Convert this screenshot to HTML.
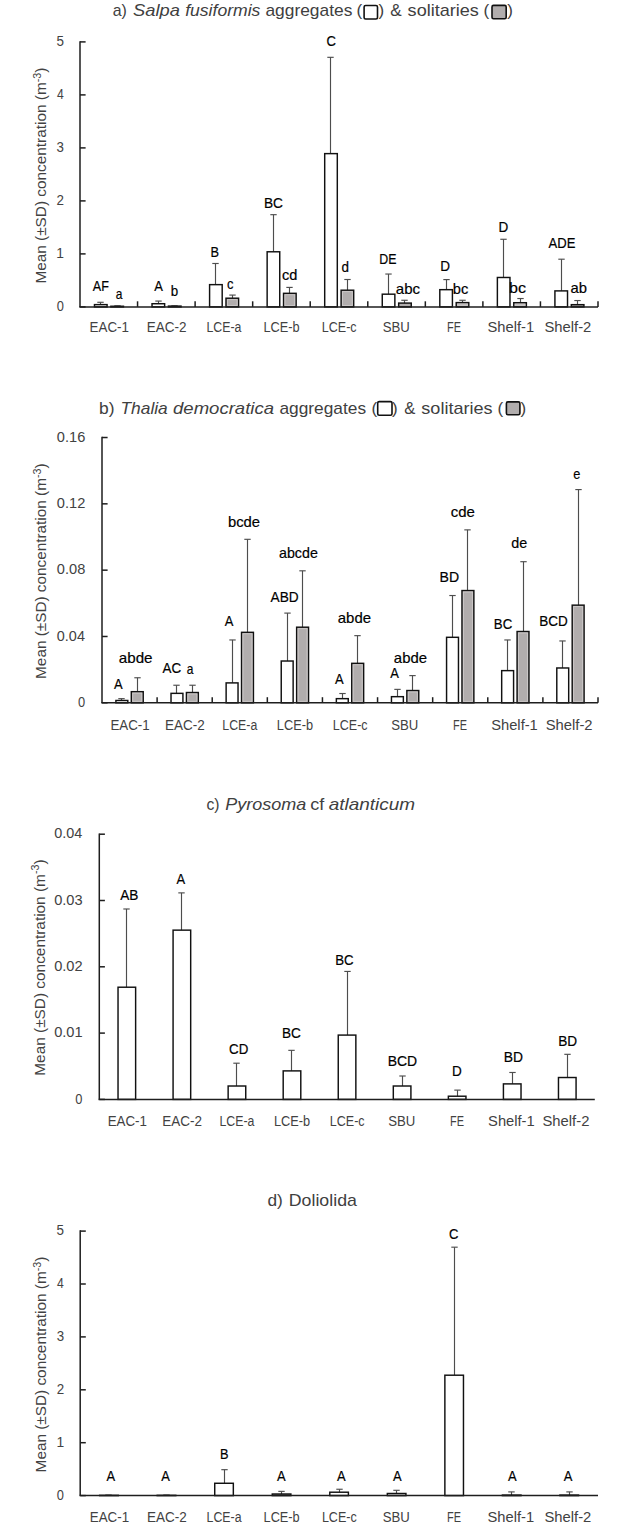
<!DOCTYPE html><html><head><meta charset="utf-8"><title>Tunicate concentrations</title><style>html,body{margin:0;padding:0;background:#fff;}svg{display:block;}</style></head><body>
<svg width="628" height="1526" viewBox="0 0 628 1526" font-family='"Liberation Sans", sans-serif'>
<rect width="628" height="1526" fill="#fff"/>
<rect x="364.1" y="5.5" width="13.4" height="13.5" rx="1.5" fill="#fff" stroke="#111" stroke-width="1.6"/>
<rect x="492" y="5.4" width="14.2" height="13.3" rx="1.5" fill="#b1adad" stroke="#111" stroke-width="1.6"/>
<rect x="377.7" y="401.6" width="14.3" height="13.7" rx="1.5" fill="#fff" stroke="#111" stroke-width="1.6"/>
<rect x="506.4" y="401.9" width="13.5" height="12.9" rx="1.5" fill="#b1adad" stroke="#111" stroke-width="1.6"/>
<line x1="80" y1="306.9" x2="85.6" y2="306.9" stroke="#1e1e1e" stroke-width="1.5"/>
<line x1="80" y1="253.9" x2="85.6" y2="253.9" stroke="#1e1e1e" stroke-width="1.5"/>
<line x1="80" y1="200.9" x2="85.6" y2="200.9" stroke="#1e1e1e" stroke-width="1.5"/>
<line x1="80" y1="147.9" x2="85.6" y2="147.9" stroke="#1e1e1e" stroke-width="1.5"/>
<line x1="80" y1="94.9" x2="85.6" y2="94.9" stroke="#1e1e1e" stroke-width="1.5"/>
<line x1="80" y1="41.9" x2="85.6" y2="41.9" stroke="#1e1e1e" stroke-width="1.5"/>
<line x1="137.56" y1="306.9" x2="137.56" y2="301.3" stroke="#1e1e1e" stroke-width="1.5"/>
<line x1="195.11" y1="306.9" x2="195.11" y2="301.3" stroke="#1e1e1e" stroke-width="1.5"/>
<line x1="252.67" y1="306.9" x2="252.67" y2="301.3" stroke="#1e1e1e" stroke-width="1.5"/>
<line x1="310.22" y1="306.9" x2="310.22" y2="301.3" stroke="#1e1e1e" stroke-width="1.5"/>
<line x1="367.78" y1="306.9" x2="367.78" y2="301.3" stroke="#1e1e1e" stroke-width="1.5"/>
<line x1="425.33" y1="306.9" x2="425.33" y2="301.3" stroke="#1e1e1e" stroke-width="1.5"/>
<line x1="482.89" y1="306.9" x2="482.89" y2="301.3" stroke="#1e1e1e" stroke-width="1.5"/>
<line x1="540.44" y1="306.9" x2="540.44" y2="301.3" stroke="#1e1e1e" stroke-width="1.5"/>
<line x1="598" y1="306.9" x2="598" y2="301.3" stroke="#1e1e1e" stroke-width="1.5"/>
<line x1="100.5" y1="304.62" x2="100.5" y2="302.29" stroke="#4d4d4d" stroke-width="1.15"/>
<line x1="97.3" y1="302.29" x2="103.7" y2="302.29" stroke="#4d4d4d" stroke-width="1.15"/>
<rect x="94.48" y="304.62" width="12.6" height="2.28" fill="#fff" stroke="#111" stroke-width="1.45"/>
<line x1="117.5" y1="306.26" x2="117.5" y2="305.84" stroke="#4d4d4d" stroke-width="1.15"/>
<line x1="114.3" y1="305.84" x2="120.7" y2="305.84" stroke="#4d4d4d" stroke-width="1.15"/>
<rect x="110.88" y="306.26" width="12.6" height="0.64" fill="#b1adad" stroke="#111" stroke-width="1.45"/>
<line x1="158.5" y1="303.72" x2="158.5" y2="301.07" stroke="#4d4d4d" stroke-width="1.15"/>
<line x1="155.3" y1="301.07" x2="161.7" y2="301.07" stroke="#4d4d4d" stroke-width="1.15"/>
<rect x="152.03" y="303.72" width="12.6" height="3.18" fill="#fff" stroke="#111" stroke-width="1.45"/>
<line x1="174.5" y1="306.1" x2="174.5" y2="305.84" stroke="#4d4d4d" stroke-width="1.15"/>
<line x1="171.3" y1="305.84" x2="177.7" y2="305.84" stroke="#4d4d4d" stroke-width="1.15"/>
<rect x="168.43" y="306.1" width="12.6" height="0.8" fill="#b1adad" stroke="#111" stroke-width="1.45"/>
<line x1="215.5" y1="284.64" x2="215.5" y2="263.49" stroke="#4d4d4d" stroke-width="1.15"/>
<line x1="212.3" y1="263.49" x2="218.7" y2="263.49" stroke="#4d4d4d" stroke-width="1.15"/>
<rect x="209.59" y="284.64" width="12.6" height="22.26" fill="#fff" stroke="#111" stroke-width="1.45"/>
<line x1="232.5" y1="298.21" x2="232.5" y2="295.08" stroke="#4d4d4d" stroke-width="1.15"/>
<line x1="229.3" y1="295.08" x2="235.7" y2="295.08" stroke="#4d4d4d" stroke-width="1.15"/>
<rect x="225.99" y="298.21" width="12.6" height="8.69" fill="#b1adad" stroke="#111" stroke-width="1.45"/>
<rect x="227.44" y="299.66" width="9.7" height="5.79" fill="none" stroke="#cdc9c9" stroke-width="0.9"/>
<line x1="273.5" y1="251.78" x2="273.5" y2="214.68" stroke="#4d4d4d" stroke-width="1.15"/>
<line x1="270.3" y1="214.68" x2="276.7" y2="214.68" stroke="#4d4d4d" stroke-width="1.15"/>
<rect x="267.14" y="251.78" width="12.6" height="55.12" fill="#fff" stroke="#111" stroke-width="1.45"/>
<line x1="289.5" y1="293.33" x2="289.5" y2="287.4" stroke="#4d4d4d" stroke-width="1.15"/>
<line x1="286.3" y1="287.4" x2="292.7" y2="287.4" stroke="#4d4d4d" stroke-width="1.15"/>
<rect x="283.54" y="293.33" width="12.6" height="13.57" fill="#b1adad" stroke="#111" stroke-width="1.45"/>
<rect x="284.99" y="294.78" width="9.7" height="10.67" fill="none" stroke="#cdc9c9" stroke-width="0.9"/>
<line x1="330.5" y1="153.62" x2="330.5" y2="57.32" stroke="#4d4d4d" stroke-width="1.15"/>
<line x1="327.3" y1="57.32" x2="333.7" y2="57.32" stroke="#4d4d4d" stroke-width="1.15"/>
<rect x="324.7" y="153.62" width="12.6" height="153.28" fill="#fff" stroke="#111" stroke-width="1.45"/>
<line x1="347.5" y1="290.2" x2="347.5" y2="279.5" stroke="#4d4d4d" stroke-width="1.15"/>
<line x1="344.3" y1="279.5" x2="350.7" y2="279.5" stroke="#4d4d4d" stroke-width="1.15"/>
<rect x="341.1" y="290.2" width="12.6" height="16.69" fill="#b1adad" stroke="#111" stroke-width="1.45"/>
<rect x="342.55" y="291.65" width="9.7" height="13.79" fill="none" stroke="#cdc9c9" stroke-width="0.9"/>
<line x1="388.5" y1="294.18" x2="388.5" y2="274.04" stroke="#4d4d4d" stroke-width="1.15"/>
<line x1="385.3" y1="274.04" x2="391.7" y2="274.04" stroke="#4d4d4d" stroke-width="1.15"/>
<rect x="382.26" y="294.18" width="12.6" height="12.72" fill="#fff" stroke="#111" stroke-width="1.45"/>
<line x1="404.5" y1="303.08" x2="404.5" y2="300.27" stroke="#4d4d4d" stroke-width="1.15"/>
<line x1="401.3" y1="300.27" x2="407.7" y2="300.27" stroke="#4d4d4d" stroke-width="1.15"/>
<rect x="398.66" y="303.08" width="12.6" height="3.82" fill="#b1adad" stroke="#111" stroke-width="1.45"/>
<line x1="446.5" y1="289.67" x2="446.5" y2="279.6" stroke="#4d4d4d" stroke-width="1.15"/>
<line x1="443.3" y1="279.6" x2="449.7" y2="279.6" stroke="#4d4d4d" stroke-width="1.15"/>
<rect x="439.81" y="289.67" width="12.6" height="17.23" fill="#fff" stroke="#111" stroke-width="1.45"/>
<line x1="462.5" y1="302.61" x2="462.5" y2="300.27" stroke="#4d4d4d" stroke-width="1.15"/>
<line x1="459.3" y1="300.27" x2="465.7" y2="300.27" stroke="#4d4d4d" stroke-width="1.15"/>
<rect x="456.21" y="302.61" width="12.6" height="4.29" fill="#b1adad" stroke="#111" stroke-width="1.45"/>
<rect x="457.66" y="304.06" width="9.7" height="1.39" fill="none" stroke="#cdc9c9" stroke-width="0.9"/>
<line x1="503.5" y1="277.48" x2="503.5" y2="239.27" stroke="#4d4d4d" stroke-width="1.15"/>
<line x1="500.3" y1="239.27" x2="506.7" y2="239.27" stroke="#4d4d4d" stroke-width="1.15"/>
<rect x="497.37" y="277.48" width="12.6" height="29.42" fill="#fff" stroke="#111" stroke-width="1.45"/>
<line x1="520.5" y1="302.71" x2="520.5" y2="298.53" stroke="#4d4d4d" stroke-width="1.15"/>
<line x1="517.3" y1="298.53" x2="523.7" y2="298.53" stroke="#4d4d4d" stroke-width="1.15"/>
<rect x="513.77" y="302.71" width="12.6" height="4.19" fill="#b1adad" stroke="#111" stroke-width="1.45"/>
<rect x="515.22" y="304.16" width="9.7" height="1.29" fill="none" stroke="#cdc9c9" stroke-width="0.9"/>
<line x1="561.5" y1="290.89" x2="561.5" y2="259.2" stroke="#4d4d4d" stroke-width="1.15"/>
<line x1="558.3" y1="259.2" x2="564.7" y2="259.2" stroke="#4d4d4d" stroke-width="1.15"/>
<rect x="554.92" y="290.89" width="12.6" height="16.01" fill="#fff" stroke="#111" stroke-width="1.45"/>
<line x1="577.5" y1="304.67" x2="577.5" y2="300.54" stroke="#4d4d4d" stroke-width="1.15"/>
<line x1="574.3" y1="300.54" x2="580.7" y2="300.54" stroke="#4d4d4d" stroke-width="1.15"/>
<rect x="571.32" y="304.67" width="12.6" height="2.23" fill="#b1adad" stroke="#111" stroke-width="1.45"/>
<line x1="79.25" y1="306.9" x2="598" y2="306.9" stroke="#1e1e1e" stroke-width="1.5"/>
<line x1="80" y1="41.15" x2="80" y2="306.9" stroke="#1e1e1e" stroke-width="1.5"/>
<line x1="102" y1="702.8" x2="107.6" y2="702.8" stroke="#1e1e1e" stroke-width="1.5"/>
<line x1="102" y1="636.48" x2="107.6" y2="636.48" stroke="#1e1e1e" stroke-width="1.5"/>
<line x1="102" y1="570.16" x2="107.6" y2="570.16" stroke="#1e1e1e" stroke-width="1.5"/>
<line x1="102" y1="503.84" x2="107.6" y2="503.84" stroke="#1e1e1e" stroke-width="1.5"/>
<line x1="102" y1="437.52" x2="107.6" y2="437.52" stroke="#1e1e1e" stroke-width="1.5"/>
<line x1="157.11" y1="702.8" x2="157.11" y2="697.2" stroke="#1e1e1e" stroke-width="1.5"/>
<line x1="212.22" y1="702.8" x2="212.22" y2="697.2" stroke="#1e1e1e" stroke-width="1.5"/>
<line x1="267.33" y1="702.8" x2="267.33" y2="697.2" stroke="#1e1e1e" stroke-width="1.5"/>
<line x1="322.44" y1="702.8" x2="322.44" y2="697.2" stroke="#1e1e1e" stroke-width="1.5"/>
<line x1="377.56" y1="702.8" x2="377.56" y2="697.2" stroke="#1e1e1e" stroke-width="1.5"/>
<line x1="432.67" y1="702.8" x2="432.67" y2="697.2" stroke="#1e1e1e" stroke-width="1.5"/>
<line x1="487.78" y1="702.8" x2="487.78" y2="697.2" stroke="#1e1e1e" stroke-width="1.5"/>
<line x1="542.89" y1="702.8" x2="542.89" y2="697.2" stroke="#1e1e1e" stroke-width="1.5"/>
<line x1="598" y1="702.8" x2="598" y2="697.2" stroke="#1e1e1e" stroke-width="1.5"/>
<line x1="121.5" y1="700.48" x2="121.5" y2="698.65" stroke="#4d4d4d" stroke-width="1.15"/>
<line x1="118.3" y1="698.65" x2="124.7" y2="698.65" stroke="#4d4d4d" stroke-width="1.15"/>
<rect x="115.91" y="700.48" width="11.9" height="2.32" fill="#fff" stroke="#111" stroke-width="1.45"/>
<line x1="137.5" y1="691.69" x2="137.5" y2="677.76" stroke="#4d4d4d" stroke-width="1.15"/>
<line x1="134.3" y1="677.76" x2="140.7" y2="677.76" stroke="#4d4d4d" stroke-width="1.15"/>
<rect x="131.31" y="691.69" width="11.9" height="11.11" fill="#b1adad" stroke="#111" stroke-width="1.45"/>
<rect x="132.76" y="693.14" width="9" height="8.21" fill="none" stroke="#cdc9c9" stroke-width="0.9"/>
<line x1="176.5" y1="693.35" x2="176.5" y2="685.23" stroke="#4d4d4d" stroke-width="1.15"/>
<line x1="173.3" y1="685.23" x2="179.7" y2="685.23" stroke="#4d4d4d" stroke-width="1.15"/>
<rect x="171.02" y="693.35" width="11.9" height="9.45" fill="#fff" stroke="#111" stroke-width="1.45"/>
<line x1="192.5" y1="692.52" x2="192.5" y2="685.23" stroke="#4d4d4d" stroke-width="1.15"/>
<line x1="189.3" y1="685.23" x2="195.7" y2="685.23" stroke="#4d4d4d" stroke-width="1.15"/>
<rect x="186.42" y="692.52" width="11.9" height="10.28" fill="#b1adad" stroke="#111" stroke-width="1.45"/>
<rect x="187.87" y="693.97" width="9" height="7.38" fill="none" stroke="#cdc9c9" stroke-width="0.9"/>
<line x1="232.5" y1="682.9" x2="232.5" y2="639.96" stroke="#4d4d4d" stroke-width="1.15"/>
<line x1="229.3" y1="639.96" x2="235.7" y2="639.96" stroke="#4d4d4d" stroke-width="1.15"/>
<rect x="226.13" y="682.9" width="11.9" height="19.9" fill="#fff" stroke="#111" stroke-width="1.45"/>
<line x1="247.5" y1="632.33" x2="247.5" y2="539.32" stroke="#4d4d4d" stroke-width="1.15"/>
<line x1="244.3" y1="539.32" x2="250.7" y2="539.32" stroke="#4d4d4d" stroke-width="1.15"/>
<rect x="241.53" y="632.33" width="11.9" height="70.47" fill="#b1adad" stroke="#111" stroke-width="1.45"/>
<rect x="242.98" y="633.78" width="9" height="67.57" fill="none" stroke="#cdc9c9" stroke-width="0.9"/>
<line x1="287.5" y1="661.02" x2="287.5" y2="613.1" stroke="#4d4d4d" stroke-width="1.15"/>
<line x1="284.3" y1="613.1" x2="290.7" y2="613.1" stroke="#4d4d4d" stroke-width="1.15"/>
<rect x="281.24" y="661.02" width="11.9" height="41.78" fill="#fff" stroke="#111" stroke-width="1.45"/>
<line x1="302.5" y1="627.2" x2="302.5" y2="570.82" stroke="#4d4d4d" stroke-width="1.15"/>
<line x1="299.3" y1="570.82" x2="305.7" y2="570.82" stroke="#4d4d4d" stroke-width="1.15"/>
<rect x="296.64" y="627.2" width="11.9" height="75.6" fill="#b1adad" stroke="#111" stroke-width="1.45"/>
<rect x="298.09" y="628.65" width="9" height="72.7" fill="none" stroke="#cdc9c9" stroke-width="0.9"/>
<line x1="342.5" y1="698.65" x2="342.5" y2="693.52" stroke="#4d4d4d" stroke-width="1.15"/>
<line x1="339.3" y1="693.52" x2="345.7" y2="693.52" stroke="#4d4d4d" stroke-width="1.15"/>
<rect x="336.35" y="698.65" width="11.9" height="4.14" fill="#fff" stroke="#111" stroke-width="1.45"/>
<line x1="357.5" y1="663.34" x2="357.5" y2="635.65" stroke="#4d4d4d" stroke-width="1.15"/>
<line x1="354.3" y1="635.65" x2="360.7" y2="635.65" stroke="#4d4d4d" stroke-width="1.15"/>
<rect x="351.75" y="663.34" width="11.9" height="39.46" fill="#b1adad" stroke="#111" stroke-width="1.45"/>
<rect x="353.2" y="664.79" width="9" height="36.56" fill="none" stroke="#cdc9c9" stroke-width="0.9"/>
<line x1="397.5" y1="696.67" x2="397.5" y2="689.37" stroke="#4d4d4d" stroke-width="1.15"/>
<line x1="394.3" y1="689.37" x2="400.7" y2="689.37" stroke="#4d4d4d" stroke-width="1.15"/>
<rect x="391.46" y="696.67" width="11.9" height="6.13" fill="#fff" stroke="#111" stroke-width="1.45"/>
<line x1="412.5" y1="690.53" x2="412.5" y2="675.61" stroke="#4d4d4d" stroke-width="1.15"/>
<line x1="409.3" y1="675.61" x2="415.7" y2="675.61" stroke="#4d4d4d" stroke-width="1.15"/>
<rect x="406.86" y="690.53" width="11.9" height="12.27" fill="#b1adad" stroke="#111" stroke-width="1.45"/>
<rect x="408.31" y="691.98" width="9" height="9.37" fill="none" stroke="#cdc9c9" stroke-width="0.9"/>
<line x1="452.5" y1="637.31" x2="452.5" y2="595.53" stroke="#4d4d4d" stroke-width="1.15"/>
<line x1="449.3" y1="595.53" x2="455.7" y2="595.53" stroke="#4d4d4d" stroke-width="1.15"/>
<rect x="446.57" y="637.31" width="11.9" height="65.49" fill="#fff" stroke="#111" stroke-width="1.45"/>
<line x1="467.5" y1="590.55" x2="467.5" y2="529.87" stroke="#4d4d4d" stroke-width="1.15"/>
<line x1="464.3" y1="529.87" x2="470.7" y2="529.87" stroke="#4d4d4d" stroke-width="1.15"/>
<rect x="461.97" y="590.55" width="11.9" height="112.25" fill="#b1adad" stroke="#111" stroke-width="1.45"/>
<rect x="463.42" y="592" width="9" height="109.35" fill="none" stroke="#cdc9c9" stroke-width="0.9"/>
<line x1="507.5" y1="670.63" x2="507.5" y2="639.96" stroke="#4d4d4d" stroke-width="1.15"/>
<line x1="504.3" y1="639.96" x2="510.7" y2="639.96" stroke="#4d4d4d" stroke-width="1.15"/>
<rect x="501.68" y="670.63" width="11.9" height="32.17" fill="#fff" stroke="#111" stroke-width="1.45"/>
<line x1="523.5" y1="631.51" x2="523.5" y2="561.7" stroke="#4d4d4d" stroke-width="1.15"/>
<line x1="520.3" y1="561.7" x2="526.7" y2="561.7" stroke="#4d4d4d" stroke-width="1.15"/>
<rect x="517.08" y="631.51" width="11.9" height="71.29" fill="#b1adad" stroke="#111" stroke-width="1.45"/>
<rect x="518.53" y="632.96" width="9" height="68.39" fill="none" stroke="#cdc9c9" stroke-width="0.9"/>
<line x1="562.5" y1="667.98" x2="562.5" y2="640.96" stroke="#4d4d4d" stroke-width="1.15"/>
<line x1="559.3" y1="640.96" x2="565.7" y2="640.96" stroke="#4d4d4d" stroke-width="1.15"/>
<rect x="556.79" y="667.98" width="11.9" height="34.82" fill="#fff" stroke="#111" stroke-width="1.45"/>
<line x1="578.5" y1="605.14" x2="578.5" y2="489.58" stroke="#4d4d4d" stroke-width="1.15"/>
<line x1="575.3" y1="489.58" x2="581.7" y2="489.58" stroke="#4d4d4d" stroke-width="1.15"/>
<rect x="572.19" y="605.14" width="11.9" height="97.66" fill="#b1adad" stroke="#111" stroke-width="1.45"/>
<rect x="573.64" y="606.59" width="9" height="94.76" fill="none" stroke="#cdc9c9" stroke-width="0.9"/>
<line x1="101.25" y1="702.8" x2="598" y2="702.8" stroke="#1e1e1e" stroke-width="1.5"/>
<line x1="102" y1="436.77" x2="102" y2="702.8" stroke="#1e1e1e" stroke-width="1.5"/>
<line x1="99.3" y1="1099.4" x2="104.9" y2="1099.4" stroke="#1e1e1e" stroke-width="1.5"/>
<line x1="99.3" y1="1033.1" x2="104.9" y2="1033.1" stroke="#1e1e1e" stroke-width="1.5"/>
<line x1="99.3" y1="966.8" x2="104.9" y2="966.8" stroke="#1e1e1e" stroke-width="1.5"/>
<line x1="99.3" y1="900.5" x2="104.9" y2="900.5" stroke="#1e1e1e" stroke-width="1.5"/>
<line x1="99.3" y1="834.2" x2="104.9" y2="834.2" stroke="#1e1e1e" stroke-width="1.5"/>
<line x1="126.5" y1="987.22" x2="126.5" y2="908.99" stroke="#4d4d4d" stroke-width="1.15"/>
<line x1="123.3" y1="908.99" x2="129.7" y2="908.99" stroke="#4d4d4d" stroke-width="1.15"/>
<rect x="118.03" y="987.22" width="17.6" height="112.18" fill="#fff" stroke="#111" stroke-width="1.45"/>
<line x1="181.5" y1="930.14" x2="181.5" y2="892.88" stroke="#4d4d4d" stroke-width="1.15"/>
<line x1="178.3" y1="892.88" x2="184.7" y2="892.88" stroke="#4d4d4d" stroke-width="1.15"/>
<rect x="173.08" y="930.14" width="17.6" height="169.26" fill="#fff" stroke="#111" stroke-width="1.45"/>
<line x1="236.5" y1="1086.01" x2="236.5" y2="1063.2" stroke="#4d4d4d" stroke-width="1.15"/>
<line x1="233.3" y1="1063.2" x2="239.7" y2="1063.2" stroke="#4d4d4d" stroke-width="1.15"/>
<rect x="228.14" y="1086.01" width="17.6" height="13.39" fill="#fff" stroke="#111" stroke-width="1.45"/>
<line x1="291.5" y1="1070.89" x2="291.5" y2="1050.34" stroke="#4d4d4d" stroke-width="1.15"/>
<line x1="288.3" y1="1050.34" x2="294.7" y2="1050.34" stroke="#4d4d4d" stroke-width="1.15"/>
<rect x="283.19" y="1070.89" width="17.6" height="28.51" fill="#fff" stroke="#111" stroke-width="1.45"/>
<line x1="347.5" y1="1035.09" x2="347.5" y2="971.44" stroke="#4d4d4d" stroke-width="1.15"/>
<line x1="344.3" y1="971.44" x2="350.7" y2="971.44" stroke="#4d4d4d" stroke-width="1.15"/>
<rect x="338.25" y="1035.09" width="17.6" height="64.31" fill="#fff" stroke="#111" stroke-width="1.45"/>
<line x1="402.5" y1="1086.01" x2="402.5" y2="1076" stroke="#4d4d4d" stroke-width="1.15"/>
<line x1="399.3" y1="1076" x2="405.7" y2="1076" stroke="#4d4d4d" stroke-width="1.15"/>
<rect x="393.31" y="1086.01" width="17.6" height="13.39" fill="#fff" stroke="#111" stroke-width="1.45"/>
<line x1="457.5" y1="1096.22" x2="457.5" y2="1090.12" stroke="#4d4d4d" stroke-width="1.15"/>
<line x1="454.3" y1="1090.12" x2="460.7" y2="1090.12" stroke="#4d4d4d" stroke-width="1.15"/>
<rect x="448.36" y="1096.22" width="17.6" height="3.18" fill="#fff" stroke="#111" stroke-width="1.45"/>
<line x1="512.5" y1="1083.89" x2="512.5" y2="1072.48" stroke="#4d4d4d" stroke-width="1.15"/>
<line x1="509.3" y1="1072.48" x2="515.7" y2="1072.48" stroke="#4d4d4d" stroke-width="1.15"/>
<rect x="503.42" y="1083.89" width="17.6" height="15.51" fill="#fff" stroke="#111" stroke-width="1.45"/>
<line x1="567.5" y1="1077.52" x2="567.5" y2="1054.32" stroke="#4d4d4d" stroke-width="1.15"/>
<line x1="564.3" y1="1054.32" x2="570.7" y2="1054.32" stroke="#4d4d4d" stroke-width="1.15"/>
<rect x="558.47" y="1077.52" width="17.6" height="21.88" fill="#fff" stroke="#111" stroke-width="1.45"/>
<line x1="98.55" y1="1099.4" x2="594.8" y2="1099.4" stroke="#1e1e1e" stroke-width="1.5"/>
<line x1="99.3" y1="833.45" x2="99.3" y2="1099.4" stroke="#1e1e1e" stroke-width="1.5"/>
<line x1="80.2" y1="1495.6" x2="85.8" y2="1495.6" stroke="#1e1e1e" stroke-width="1.5"/>
<line x1="80.2" y1="1442.7" x2="85.8" y2="1442.7" stroke="#1e1e1e" stroke-width="1.5"/>
<line x1="80.2" y1="1389.8" x2="85.8" y2="1389.8" stroke="#1e1e1e" stroke-width="1.5"/>
<line x1="80.2" y1="1336.9" x2="85.8" y2="1336.9" stroke="#1e1e1e" stroke-width="1.5"/>
<line x1="80.2" y1="1284" x2="85.8" y2="1284" stroke="#1e1e1e" stroke-width="1.5"/>
<line x1="80.2" y1="1231.1" x2="85.8" y2="1231.1" stroke="#1e1e1e" stroke-width="1.5"/>
<line x1="108.5" y1="1495.34" x2="108.5" y2="1495.07" stroke="#4d4d4d" stroke-width="1.15"/>
<line x1="105.3" y1="1495.07" x2="111.7" y2="1495.07" stroke="#4d4d4d" stroke-width="1.15"/>
<rect x="99.67" y="1495.34" width="18.6" height="0.26" fill="#fff" stroke="#111" stroke-width="1.45"/>
<line x1="166.5" y1="1495.34" x2="166.5" y2="1495.07" stroke="#4d4d4d" stroke-width="1.15"/>
<line x1="163.3" y1="1495.07" x2="169.7" y2="1495.07" stroke="#4d4d4d" stroke-width="1.15"/>
<rect x="157.2" y="1495.34" width="18.6" height="0.26" fill="#fff" stroke="#111" stroke-width="1.45"/>
<line x1="224.5" y1="1483.27" x2="224.5" y2="1469.68" stroke="#4d4d4d" stroke-width="1.15"/>
<line x1="221.3" y1="1469.68" x2="227.7" y2="1469.68" stroke="#4d4d4d" stroke-width="1.15"/>
<rect x="214.73" y="1483.27" width="18.6" height="12.33" fill="#fff" stroke="#111" stroke-width="1.45"/>
<line x1="281.5" y1="1494.01" x2="281.5" y2="1491.37" stroke="#4d4d4d" stroke-width="1.15"/>
<line x1="278.3" y1="1491.37" x2="284.7" y2="1491.37" stroke="#4d4d4d" stroke-width="1.15"/>
<rect x="272.27" y="1494.01" width="18.6" height="1.59" fill="#fff" stroke="#111" stroke-width="1.45"/>
<line x1="339.5" y1="1492.21" x2="339.5" y2="1489.25" stroke="#4d4d4d" stroke-width="1.15"/>
<line x1="336.3" y1="1489.25" x2="342.7" y2="1489.25" stroke="#4d4d4d" stroke-width="1.15"/>
<rect x="329.8" y="1492.21" width="18.6" height="3.39" fill="#fff" stroke="#111" stroke-width="1.45"/>
<line x1="396.5" y1="1493.48" x2="396.5" y2="1490.31" stroke="#4d4d4d" stroke-width="1.15"/>
<line x1="393.3" y1="1490.31" x2="399.7" y2="1490.31" stroke="#4d4d4d" stroke-width="1.15"/>
<rect x="387.33" y="1493.48" width="18.6" height="2.12" fill="#fff" stroke="#111" stroke-width="1.45"/>
<line x1="454.5" y1="1375.2" x2="454.5" y2="1247.18" stroke="#4d4d4d" stroke-width="1.15"/>
<line x1="451.3" y1="1247.18" x2="457.7" y2="1247.18" stroke="#4d4d4d" stroke-width="1.15"/>
<rect x="444.87" y="1375.2" width="18.6" height="120.4" fill="#fff" stroke="#111" stroke-width="1.45"/>
<line x1="511.5" y1="1495.07" x2="511.5" y2="1491.9" stroke="#4d4d4d" stroke-width="1.15"/>
<line x1="508.3" y1="1491.9" x2="514.7" y2="1491.9" stroke="#4d4d4d" stroke-width="1.15"/>
<rect x="502.4" y="1495.07" width="18.6" height="0.53" fill="#fff" stroke="#111" stroke-width="1.45"/>
<line x1="569.5" y1="1495.07" x2="569.5" y2="1491.9" stroke="#4d4d4d" stroke-width="1.15"/>
<line x1="566.3" y1="1491.9" x2="572.7" y2="1491.9" stroke="#4d4d4d" stroke-width="1.15"/>
<rect x="559.93" y="1495.07" width="18.6" height="0.53" fill="#fff" stroke="#111" stroke-width="1.45"/>
<line x1="79.45" y1="1495.6" x2="598" y2="1495.6" stroke="#1e1e1e" stroke-width="1.5"/>
<line x1="80.2" y1="1230.35" x2="80.2" y2="1495.6" stroke="#1e1e1e" stroke-width="1.5"/>
<text x="112.74" y="16.4" font-size="17" fill="#404040"  textLength="14.16" lengthAdjust="spacingAndGlyphs">a)</text>
<text x="133.09" y="16.4" font-size="17" fill="#404040"  font-style="italic" textLength="46.86" lengthAdjust="spacingAndGlyphs">Salpa</text>
<text x="185.15" y="16.4" font-size="17" fill="#404040"  font-style="italic" textLength="75.25" lengthAdjust="spacingAndGlyphs">fusiformis</text>
<text x="265.48" y="16.4" font-size="17" fill="#404040"  textLength="86.88" lengthAdjust="spacingAndGlyphs">aggregates</text>
<text x="356.4" y="16.4" font-size="17" fill="#404040" >(</text>
<text x="378.62" y="16.4" font-size="17" fill="#404040" >)</text>
<text x="390.39" y="16.4" font-size="17" fill="#404040"  textLength="11.43" lengthAdjust="spacingAndGlyphs">&amp;</text>
<text x="407.63" y="16.4" font-size="17" fill="#404040"  textLength="71.27" lengthAdjust="spacingAndGlyphs">solitaries</text>
<text x="483.6" y="16.4" font-size="17" fill="#404040" >(</text>
<text x="507.22" y="16.4" font-size="17" fill="#404040" >)</text>
<text x="99.09" y="414.1" font-size="17" fill="#404040"  textLength="15.49" lengthAdjust="spacingAndGlyphs">b)</text>
<text x="120.53" y="414.1" font-size="17" fill="#404040"  font-style="italic" textLength="47.24" lengthAdjust="spacingAndGlyphs">Thalia</text>
<text x="173.06" y="414.1" font-size="17" fill="#404040"  font-style="italic" textLength="100.93" lengthAdjust="spacingAndGlyphs">democratica</text>
<text x="279.48" y="414.1" font-size="17" fill="#404040"  textLength="86.57" lengthAdjust="spacingAndGlyphs">aggregates</text>
<text x="371.4" y="414.1" font-size="17" fill="#404040" >(</text>
<text x="392.02" y="414.1" font-size="17" fill="#404040" >)</text>
<text x="404.21" y="414.1" font-size="17" fill="#404040"  textLength="11.11" lengthAdjust="spacingAndGlyphs">&amp;</text>
<text x="421.33" y="414.1" font-size="17" fill="#404040"  textLength="71.27" lengthAdjust="spacingAndGlyphs">solitaries</text>
<text x="497.6" y="414.1" font-size="17" fill="#404040" >(</text>
<text x="520.62" y="414.1" font-size="17" fill="#404040" >)</text>
<text x="206.47" y="810.2" font-size="17" fill="#404040"  textLength="13.07" lengthAdjust="spacingAndGlyphs">c)</text>
<text x="225.2" y="810.2" font-size="17" fill="#404040"  font-style="italic" textLength="81.09" lengthAdjust="spacingAndGlyphs">Pyrosoma</text>
<text x="310.17" y="810.2" font-size="17" fill="#404040"  textLength="14.03" lengthAdjust="spacingAndGlyphs">cf</text>
<text x="328.71" y="810.2" font-size="17" fill="#404040"  font-style="italic" textLength="86.38" lengthAdjust="spacingAndGlyphs">atlanticum</text>
<text x="267.49" y="1206.2" font-size="17" fill="#404040"  textLength="15.38" lengthAdjust="spacingAndGlyphs">d)</text>
<text x="288.8" y="1206.2" font-size="17" fill="#404040"  textLength="68.07" lengthAdjust="spacingAndGlyphs">Doliolida</text>
<text x="56.71" y="311.1" font-size="14.0" fill="#424242"  textLength="7.17" lengthAdjust="spacingAndGlyphs">0</text>
<text x="56.31" y="258.1" font-size="14.0" fill="#424242"  textLength="7.68" lengthAdjust="spacingAndGlyphs">1</text>
<text x="56.57" y="205.1" font-size="14.0" fill="#424242"  textLength="7.45" lengthAdjust="spacingAndGlyphs">2</text>
<text x="56.56" y="152.1" font-size="14.0" fill="#424242"  textLength="7.41" lengthAdjust="spacingAndGlyphs">3</text>
<text x="56.96" y="99.1" font-size="14.0" fill="#424242"  textLength="6.77" lengthAdjust="spacingAndGlyphs">4</text>
<text x="56.46" y="46.1" font-size="14.0" fill="#424242"  textLength="7.47" lengthAdjust="spacingAndGlyphs">5</text>
<text x="92.83" y="291.1" font-size="14.3" fill="#000" stroke="#000" stroke-width="0.18" textLength="16.06" lengthAdjust="spacingAndGlyphs">AF</text>
<text x="115.85" y="298.7" font-size="14.3" fill="#000" stroke="#000" stroke-width="0.18" textLength="6.65" lengthAdjust="spacingAndGlyphs">a</text>
<text x="89.62" y="332.2" font-size="14.0" fill="#424242"  textLength="39.29" lengthAdjust="spacingAndGlyphs">EAC-1</text>
<text x="154.27" y="291.1" font-size="14.3" fill="#000" stroke="#000" stroke-width="0.18" textLength="8.63" lengthAdjust="spacingAndGlyphs">A</text>
<text x="170.83" y="296.3" font-size="14.3" fill="#000" stroke="#000" stroke-width="0.18" textLength="7.43" lengthAdjust="spacingAndGlyphs">b</text>
<text x="146.76" y="332.2" font-size="14.0" fill="#424242"  textLength="39.73" lengthAdjust="spacingAndGlyphs">EAC-2</text>
<text x="210.43" y="256.7" font-size="14.3" fill="#000" stroke="#000" stroke-width="0.18" textLength="8.52" lengthAdjust="spacingAndGlyphs">B</text>
<text x="227.06" y="289.4" font-size="14.3" fill="#000" stroke="#000" stroke-width="0.18" textLength="6.48" lengthAdjust="spacingAndGlyphs">c</text>
<text x="206.46" y="332.2" font-size="14.0" fill="#424242"  textLength="34.91" lengthAdjust="spacingAndGlyphs">LCE-a</text>
<text x="263.93" y="208.3" font-size="14.3" fill="#000" stroke="#000" stroke-width="0.18" textLength="19" lengthAdjust="spacingAndGlyphs">BC</text>
<text x="281.99" y="279.9" font-size="14.3" fill="#000" stroke="#000" stroke-width="0.18" textLength="15.41" lengthAdjust="spacingAndGlyphs">cd</text>
<text x="263.43" y="332.2" font-size="14.0" fill="#424242"  textLength="36.13" lengthAdjust="spacingAndGlyphs">LCE-b</text>
<text x="326.41" y="46.4" font-size="14.3" fill="#000" stroke="#000" stroke-width="0.18" textLength="9.39" lengthAdjust="spacingAndGlyphs">C</text>
<text x="341.53" y="272.3" font-size="14.3" fill="#000" stroke="#000" stroke-width="0.18" textLength="7.47" lengthAdjust="spacingAndGlyphs">d</text>
<text x="321.8" y="332.2" font-size="14.0" fill="#424242"  textLength="34.8" lengthAdjust="spacingAndGlyphs">LCE-c</text>
<text x="379.33" y="264" font-size="14.3" fill="#000" stroke="#000" stroke-width="0.18" textLength="17.22" lengthAdjust="spacingAndGlyphs">DE</text>
<text x="395.87" y="293.6" font-size="14.3" fill="#000" stroke="#000" stroke-width="0.18" textLength="24.27" lengthAdjust="spacingAndGlyphs">abc</text>
<text x="382.72" y="332.2" font-size="14.0" fill="#424242"  textLength="27.09" lengthAdjust="spacingAndGlyphs">SBU</text>
<text x="440.35" y="271.2" font-size="14.3" fill="#000" stroke="#000" stroke-width="0.18" textLength="9.77" lengthAdjust="spacingAndGlyphs">D</text>
<text x="452.85" y="293.6" font-size="14.3" fill="#000" stroke="#000" stroke-width="0.18" textLength="15.51" lengthAdjust="spacingAndGlyphs">bc</text>
<text x="446.99" y="332.2" font-size="14.0" fill="#424242"  textLength="13.96" lengthAdjust="spacingAndGlyphs">FE</text>
<text x="498.55" y="232" font-size="14.3" fill="#000" stroke="#000" stroke-width="0.18" textLength="9.77" lengthAdjust="spacingAndGlyphs">D</text>
<text x="509.07" y="293.2" font-size="14.3" fill="#000" stroke="#000" stroke-width="0.18" textLength="17.05" lengthAdjust="spacingAndGlyphs">bc</text>
<text x="487.54" y="332.2" font-size="14.0" fill="#424242"  textLength="46.58" lengthAdjust="spacingAndGlyphs">Shelf-1</text>
<text x="548.62" y="247.7" font-size="14.3" fill="#000" stroke="#000" stroke-width="0.18" textLength="26.89" lengthAdjust="spacingAndGlyphs">ADE</text>
<text x="570.57" y="293.2" font-size="14.3" fill="#000" stroke="#000" stroke-width="0.18" textLength="16.49" lengthAdjust="spacingAndGlyphs">ab</text>
<text x="544.44" y="332.2" font-size="14.0" fill="#424242"  textLength="46.92" lengthAdjust="spacingAndGlyphs">Shelf-2</text>
<text x="78.01" y="707" font-size="14.0" fill="#424242"  textLength="7.17" lengthAdjust="spacingAndGlyphs">0</text>
<text x="56.85" y="640.68" font-size="14.0" fill="#424242"  textLength="28.06" lengthAdjust="spacingAndGlyphs">0.04</text>
<text x="56.85" y="574.36" font-size="14.0" fill="#424242"  textLength="28.45" lengthAdjust="spacingAndGlyphs">0.08</text>
<text x="56.85" y="508.04" font-size="14.0" fill="#424242"  textLength="28.47" lengthAdjust="spacingAndGlyphs">0.12</text>
<text x="56.85" y="441.72" font-size="14.0" fill="#424242"  textLength="28.41" lengthAdjust="spacingAndGlyphs">0.16</text>
<text x="114.07" y="688.7" font-size="14.3" fill="#000" stroke="#000" stroke-width="0.18" textLength="8.63" lengthAdjust="spacingAndGlyphs">A</text>
<text x="118.76" y="663.3" font-size="14.3" fill="#000" stroke="#000" stroke-width="0.18" textLength="33.77" lengthAdjust="spacingAndGlyphs">abde</text>
<text x="110.39" y="729.8" font-size="14.0" fill="#424242"  textLength="39.29" lengthAdjust="spacingAndGlyphs">EAC-1</text>
<text x="162.52" y="672.5" font-size="14.3" fill="#000" stroke="#000" stroke-width="0.18" textLength="18.61" lengthAdjust="spacingAndGlyphs">AC</text>
<text x="186.75" y="673.6" font-size="14.3" fill="#000" stroke="#000" stroke-width="0.18" textLength="6.65" lengthAdjust="spacingAndGlyphs">a</text>
<text x="165.09" y="729.8" font-size="14.0" fill="#424242"  textLength="39.73" lengthAdjust="spacingAndGlyphs">EAC-2</text>
<text x="224.87" y="626.3" font-size="14.3" fill="#000" stroke="#000" stroke-width="0.18" textLength="8.63" lengthAdjust="spacingAndGlyphs">A</text>
<text x="227.94" y="527.2" font-size="14.3" fill="#000" stroke="#000" stroke-width="0.18" textLength="32.16" lengthAdjust="spacingAndGlyphs">bcde</text>
<text x="222.35" y="729.8" font-size="14.0" fill="#424242"  textLength="34.91" lengthAdjust="spacingAndGlyphs">LCE-a</text>
<text x="270.61" y="601.9" font-size="14.3" fill="#000" stroke="#000" stroke-width="0.18" textLength="28.08" lengthAdjust="spacingAndGlyphs">ABD</text>
<text x="279" y="557.8" font-size="14.3" fill="#000" stroke="#000" stroke-width="0.18" textLength="38.84" lengthAdjust="spacingAndGlyphs">abcde</text>
<text x="276.87" y="729.8" font-size="14.0" fill="#424242"  textLength="36.13" lengthAdjust="spacingAndGlyphs">LCE-b</text>
<text x="335.07" y="683.5" font-size="14.3" fill="#000" stroke="#000" stroke-width="0.18" textLength="8.63" lengthAdjust="spacingAndGlyphs">A</text>
<text x="337.77" y="623.1" font-size="14.3" fill="#000" stroke="#000" stroke-width="0.18" textLength="33.25" lengthAdjust="spacingAndGlyphs">abde</text>
<text x="332.8" y="729.8" font-size="14.0" fill="#424242"  textLength="34.8" lengthAdjust="spacingAndGlyphs">LCE-c</text>
<text x="390.27" y="678.2" font-size="14.3" fill="#000" stroke="#000" stroke-width="0.18" textLength="8.63" lengthAdjust="spacingAndGlyphs">A</text>
<text x="393.87" y="663.3" font-size="14.3" fill="#000" stroke="#000" stroke-width="0.18" textLength="33.15" lengthAdjust="spacingAndGlyphs">abde</text>
<text x="391.28" y="729.8" font-size="14.0" fill="#424242"  textLength="27.09" lengthAdjust="spacingAndGlyphs">SBU</text>
<text x="439.5" y="581.8" font-size="14.3" fill="#000" stroke="#000" stroke-width="0.18" textLength="19.57" lengthAdjust="spacingAndGlyphs">BD</text>
<text x="450.77" y="516.7" font-size="14.3" fill="#000" stroke="#000" stroke-width="0.18" textLength="24.19" lengthAdjust="spacingAndGlyphs">cde</text>
<text x="453.1" y="729.8" font-size="14.0" fill="#424242"  textLength="13.96" lengthAdjust="spacingAndGlyphs">FE</text>
<text x="493.87" y="629.3" font-size="14.3" fill="#000" stroke="#000" stroke-width="0.18" textLength="18.34" lengthAdjust="spacingAndGlyphs">BC</text>
<text x="511.29" y="548.2" font-size="14.3" fill="#000" stroke="#000" stroke-width="0.18" textLength="15.99" lengthAdjust="spacingAndGlyphs">de</text>
<text x="491.21" y="729.8" font-size="14.0" fill="#424242"  textLength="46.58" lengthAdjust="spacingAndGlyphs">Shelf-1</text>
<text x="539.25" y="626.3" font-size="14.3" fill="#000" stroke="#000" stroke-width="0.18" textLength="28.48" lengthAdjust="spacingAndGlyphs">BCD</text>
<text x="573.17" y="478.7" font-size="14.3" fill="#000" stroke="#000" stroke-width="0.18" textLength="7.1" lengthAdjust="spacingAndGlyphs">e</text>
<text x="545.66" y="729.8" font-size="14.0" fill="#424242"  textLength="46.92" lengthAdjust="spacingAndGlyphs">Shelf-2</text>
<text x="75.31" y="1103.6" font-size="14.0" fill="#424242"  textLength="7.17" lengthAdjust="spacingAndGlyphs">0</text>
<text x="54.15" y="1037.3" font-size="14.0" fill="#424242"  textLength="28.44" lengthAdjust="spacingAndGlyphs">0.01</text>
<text x="54.15" y="971" font-size="14.0" fill="#424242"  textLength="28.47" lengthAdjust="spacingAndGlyphs">0.02</text>
<text x="54.15" y="904.7" font-size="14.0" fill="#424242"  textLength="28.41" lengthAdjust="spacingAndGlyphs">0.03</text>
<text x="54.15" y="838.4" font-size="14.0" fill="#424242"  textLength="28.06" lengthAdjust="spacingAndGlyphs">0.04</text>
<text x="120.31" y="899.9" font-size="14.3" fill="#000" stroke="#000" stroke-width="0.18" textLength="18.14" lengthAdjust="spacingAndGlyphs">AB</text>
<text x="107.67" y="1126" font-size="14.0" fill="#424242"  textLength="39.29" lengthAdjust="spacingAndGlyphs">EAC-1</text>
<text x="176.62" y="883.6" font-size="14.3" fill="#000" stroke="#000" stroke-width="0.18" textLength="8.63" lengthAdjust="spacingAndGlyphs">A</text>
<text x="162.31" y="1126" font-size="14.0" fill="#424242"  textLength="39.73" lengthAdjust="spacingAndGlyphs">EAC-2</text>
<text x="229.05" y="1053.9" font-size="14.3" fill="#000" stroke="#000" stroke-width="0.18" textLength="19.25" lengthAdjust="spacingAndGlyphs">CD</text>
<text x="219.51" y="1126" font-size="14.0" fill="#424242"  textLength="34.91" lengthAdjust="spacingAndGlyphs">LCE-a</text>
<text x="282.04" y="1038.2" font-size="14.3" fill="#000" stroke="#000" stroke-width="0.18" textLength="18.89" lengthAdjust="spacingAndGlyphs">BC</text>
<text x="273.98" y="1126" font-size="14.0" fill="#424242"  textLength="36.13" lengthAdjust="spacingAndGlyphs">LCE-b</text>
<text x="335.17" y="965.4" font-size="14.3" fill="#000" stroke="#000" stroke-width="0.18" textLength="18.34" lengthAdjust="spacingAndGlyphs">BC</text>
<text x="329.85" y="1126" font-size="14.0" fill="#424242"  textLength="34.8" lengthAdjust="spacingAndGlyphs">LCE-c</text>
<text x="387.71" y="1066.4" font-size="14.3" fill="#000" stroke="#000" stroke-width="0.18" textLength="29.44" lengthAdjust="spacingAndGlyphs">BCD</text>
<text x="388.27" y="1126" font-size="14.0" fill="#424242"  textLength="27.09" lengthAdjust="spacingAndGlyphs">SBU</text>
<text x="451.9" y="1076.4" font-size="14.3" fill="#000" stroke="#000" stroke-width="0.18" textLength="9.77" lengthAdjust="spacingAndGlyphs">D</text>
<text x="450.04" y="1126" font-size="14.0" fill="#424242"  textLength="13.96" lengthAdjust="spacingAndGlyphs">FE</text>
<text x="503.82" y="1061.7" font-size="14.3" fill="#000" stroke="#000" stroke-width="0.18" textLength="19.24" lengthAdjust="spacingAndGlyphs">BD</text>
<text x="488.09" y="1126" font-size="14.0" fill="#424242"  textLength="46.58" lengthAdjust="spacingAndGlyphs">Shelf-1</text>
<text x="558.14" y="1045.9" font-size="14.3" fill="#000" stroke="#000" stroke-width="0.18" textLength="18.92" lengthAdjust="spacingAndGlyphs">BD</text>
<text x="542.49" y="1126" font-size="14.0" fill="#424242"  textLength="46.92" lengthAdjust="spacingAndGlyphs">Shelf-2</text>
<text x="56.81" y="1499.8" font-size="14.0" fill="#424242"  textLength="7.17" lengthAdjust="spacingAndGlyphs">0</text>
<text x="56.41" y="1446.9" font-size="14.0" fill="#424242"  textLength="7.68" lengthAdjust="spacingAndGlyphs">1</text>
<text x="56.67" y="1394" font-size="14.0" fill="#424242"  textLength="7.45" lengthAdjust="spacingAndGlyphs">2</text>
<text x="56.66" y="1341.1" font-size="14.0" fill="#424242"  textLength="7.41" lengthAdjust="spacingAndGlyphs">3</text>
<text x="57.06" y="1288.2" font-size="14.0" fill="#424242"  textLength="6.77" lengthAdjust="spacingAndGlyphs">4</text>
<text x="56.56" y="1235.3" font-size="14.0" fill="#424242"  textLength="7.47" lengthAdjust="spacingAndGlyphs">5</text>
<text x="106.47" y="1481" font-size="14.3" fill="#000" stroke="#000" stroke-width="0.18" textLength="8.63" lengthAdjust="spacingAndGlyphs">A</text>
<text x="89.81" y="1522" font-size="14.0" fill="#424242"  textLength="39.29" lengthAdjust="spacingAndGlyphs">EAC-1</text>
<text x="161.27" y="1481" font-size="14.3" fill="#000" stroke="#000" stroke-width="0.18" textLength="8.63" lengthAdjust="spacingAndGlyphs">A</text>
<text x="146.93" y="1522" font-size="14.0" fill="#424242"  textLength="39.73" lengthAdjust="spacingAndGlyphs">EAC-2</text>
<text x="219.88" y="1458.8" font-size="14.3" fill="#000" stroke="#000" stroke-width="0.18" textLength="8.52" lengthAdjust="spacingAndGlyphs">B</text>
<text x="206.6" y="1522" font-size="14.0" fill="#424242"  textLength="34.91" lengthAdjust="spacingAndGlyphs">LCE-a</text>
<text x="277.02" y="1480.6" font-size="14.3" fill="#000" stroke="#000" stroke-width="0.18" textLength="8.63" lengthAdjust="spacingAndGlyphs">A</text>
<text x="263.55" y="1522" font-size="14.0" fill="#424242"  textLength="36.13" lengthAdjust="spacingAndGlyphs">LCE-b</text>
<text x="336.97" y="1481.1" font-size="14.3" fill="#000" stroke="#000" stroke-width="0.18" textLength="8.63" lengthAdjust="spacingAndGlyphs">A</text>
<text x="321.9" y="1522" font-size="14.0" fill="#424242"  textLength="34.8" lengthAdjust="spacingAndGlyphs">LCE-c</text>
<text x="393.02" y="1481" font-size="14.3" fill="#000" stroke="#000" stroke-width="0.18" textLength="8.63" lengthAdjust="spacingAndGlyphs">A</text>
<text x="382.8" y="1522" font-size="14.0" fill="#424242"  textLength="27.09" lengthAdjust="spacingAndGlyphs">SBU</text>
<text x="448.91" y="1238.8" font-size="14.3" fill="#000" stroke="#000" stroke-width="0.18" textLength="9.39" lengthAdjust="spacingAndGlyphs">C</text>
<text x="447.05" y="1522" font-size="14.0" fill="#424242"  textLength="13.96" lengthAdjust="spacingAndGlyphs">FE</text>
<text x="508.02" y="1481.3" font-size="14.3" fill="#000" stroke="#000" stroke-width="0.18" textLength="8.63" lengthAdjust="spacingAndGlyphs">A</text>
<text x="487.57" y="1522" font-size="14.0" fill="#424242"  textLength="46.58" lengthAdjust="spacingAndGlyphs">Shelf-1</text>
<text x="563.67" y="1481" font-size="14.3" fill="#000" stroke="#000" stroke-width="0.18" textLength="8.63" lengthAdjust="spacingAndGlyphs">A</text>
<text x="544.45" y="1522" font-size="14.0" fill="#424242"  textLength="46.92" lengthAdjust="spacingAndGlyphs">Shelf-2</text>
<text transform="translate(46.2,283.6) rotate(-90)" x="0" y="0" font-size="14.3" fill="#424242" textLength="215.98" lengthAdjust="spacingAndGlyphs">Mean (±SD) concentration (m<tspan dy="-5.2" font-size="10">-3</tspan><tspan dy="5.2">)</tspan></text>
<text transform="translate(46.3,678.89) rotate(-90)" x="0" y="0" font-size="14.3" fill="#424242" textLength="215.48" lengthAdjust="spacingAndGlyphs">Mean (±SD) concentration (m<tspan dy="-5.2" font-size="10">-3</tspan><tspan dy="5.2">)</tspan></text>
<text transform="translate(44.5,1075.7) rotate(-90)" x="0" y="0" font-size="14.3" fill="#424242" textLength="216.29" lengthAdjust="spacingAndGlyphs">Mean (±SD) concentration (m<tspan dy="-5.2" font-size="10">-3</tspan><tspan dy="5.2">)</tspan></text>
<text transform="translate(46.4,1472.4) rotate(-90)" x="0" y="0" font-size="14.3" fill="#424242" textLength="215.78" lengthAdjust="spacingAndGlyphs">Mean (±SD) concentration (m<tspan dy="-5.2" font-size="10">-3</tspan><tspan dy="5.2">)</tspan></text>
</svg></body></html>
